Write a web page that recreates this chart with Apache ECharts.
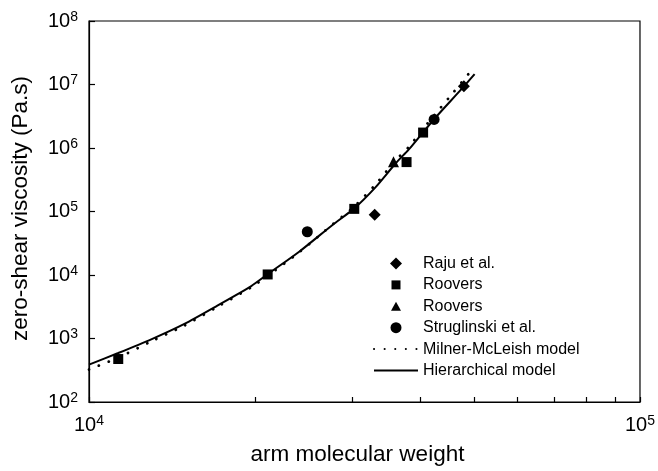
<!DOCTYPE html>
<html>
<head>
<meta charset="utf-8">
<script src="https://cdn.jsdelivr.net/npm/echarts@6/dist/echarts.min.js"></script>
<style>html,body{margin:0;padding:0;background:#fff;}#c{width:658px;height:471px;}</style>
</head>
<body>
<div id="c"></div>
<script>
// ---- data ----
const rajuData = [[33000, 89000], [47900, 9400000]];
const rooversSquareData = [[11300, 475], [21100, 10200], [30300, 110000], [37700, 600000], [40400, 1750000]];
const rooversTriangleData = [[35700, 610000]];
const struglinskiData = [[24900, 48000], [42300, 2820000]];
const milnerMcLeishData = [
  [10000, 325], [11300, 500], [13000, 910], [14900, 1600], [17100, 3150], [19700, 6400],
  [21100, 9700], [24100, 23000], [27700, 63000], [30300, 120000], [33100, 265000],
  [36000, 640000], [38100, 1050000], [40200, 1900000], [42600, 3500000], [45900, 7600000],
  [49100, 15500000]
];
const hierarchicalData = [
  [10000, 388], [11300, 590], [13000, 980], [14900, 1700], [17100, 3300], [19700, 6700],
  [21100, 10300], [24100, 23500], [27700, 62000], [30300, 112000], [33100, 240000],
  [36000, 570000], [38100, 960000], [40200, 1680000], [42600, 3050000], [47500, 8600000],
  [50100, 14600000]
];
const xTickValues = [10000, 20000, 30000, 40000, 50000, 60000, 70000, 80000, 90000, 100000];
const xLabelValues = [10000, 100000];
const yTickValues = [100, 1000, 10000, 100000, 1000000, 10000000, 100000000];
const seriesNames = ['Raju et al.', 'Roovers', 'Roovers ', 'Struglinski et al.', 'Milner-McLeish model', 'Hierarchical model'];

const FONT = '"Liberation Sans", Arial, Helvetica, sans-serif';
const powRich = {
  b: { fontSize: 20, fontFamily: FONT, color: '#000', lineHeight: 22 },
  s: { fontSize: 14, fontFamily: FONT, color: '#000', lineHeight: 14, verticalAlign: 'top' }
};
const powFmt = v => '{b|10}{s|' + Math.round(Math.log10(v)) + '}';
const hidden = { color: 'rgba(0,0,0,0)', borderColor: 'rgba(0,0,0,0)', borderWidth: 0 };
// legend icon shapes inside a 44x12 box (corner moveTo points keep the box)
const BOX = 'M0,0 M44,12 ';
const iconDiamond = 'path://' + BOX + 'M22,0 L28,6 L22,12 L16,6 Z';
const iconSquare = 'path://' + BOX + 'M17.5,1.5 L26.5,1.5 L26.5,10.5 L17.5,10.5 Z';
const iconTriangle = 'path://' + BOX + 'M22,1.5 L27,10.5 L17,10.5 Z';
const iconCircle = 'path://' + BOX + 'M16.5,6 A5.5,5.5 0 1,0 27.5,6 A5.5,5.5 0 1,0 16.5,6 Z';

const chart = echarts.init(document.getElementById('c'), null, { renderer: 'canvas' });
chart.setOption({
  animation: false,
  backgroundColor: '#fff',
  grid: { left: 89, right: 16, top: 21, bottom: 63, show: true, borderColor: '#000', borderWidth: 1.2, backgroundColor: 'transparent' },
  xAxis: {
    type: 'log', logBase: 10, min: 10000, max: 100000,
    name: 'arm molecular weight', nameLocation: 'middle', nameGap: 41,
    nameTextStyle: { fontSize: 22.5, fontFamily: FONT, color: '#000', padding: [0, 14, 0, 0] },
    axisLine: { show: true, lineStyle: { color: '#000', width: 1.2 } },
    axisTick: { show: true, inside: true, length: 5, customValues: xTickValues, lineStyle: { color: '#000', width: 1.2 } },
    axisLabel: { show: true, margin: 12, customValues: xLabelValues, formatter: powFmt, rich: powRich },
    splitLine: { show: false }, minorTick: { show: false }
  },
  yAxis: {
    type: 'log', logBase: 10, min: 100, max: 100000000,
    name: 'zero-shear viscosity (Pa.s)', nameLocation: 'middle', nameGap: 57,
    nameTextStyle: { fontSize: 22.5, fontFamily: FONT, color: '#000', padding: [0, 0, 0, 6] },
    axisLine: { show: true, lineStyle: { color: '#000', width: 1.2 } },
    axisTick: { show: true, inside: true, length: 6, customValues: yTickValues, lineStyle: { color: '#000', width: 1.2 } },
    axisLabel: { show: true, margin: 11, customValues: yTickValues, formatter: powFmt, rich: powRich },
    splitLine: { show: false }
  },
  legend: {
    orient: 'vertical', left: 373, top: 255.5, padding: 0,
    itemWidth: 44, itemHeight: 12, itemGap: 5.4,
    data: [
      { name: seriesNames[0], icon: iconDiamond },
      { name: seriesNames[1], icon: iconSquare },
      { name: seriesNames[2], icon: iconTriangle },
      { name: seriesNames[3], icon: iconCircle },
      { name: seriesNames[4], itemStyle: hidden },
      { name: seriesNames[5], itemStyle: hidden }
    ],
    textStyle: { fontSize: 16, fontFamily: FONT, color: '#000', lineHeight: 16 },
    selectedMode: false
  },
  series: [
    { name: seriesNames[4], type: 'line', data: milnerMcLeishData, symbol: 'none', smooth: 0.25, z: 2,
      lineStyle: { color: '#000', width: 2.8, type: [0.1, 10.5], cap: 'round' }, itemStyle: { color: '#000' } },
    { name: seriesNames[5], type: 'line', data: hierarchicalData, symbol: 'none', smooth: 0.25, z: 2,
      lineStyle: { color: '#000', width: 2 }, itemStyle: { color: '#000' } },
    { name: seriesNames[0], type: 'scatter', data: rajuData, symbol: 'diamond', symbolSize: 12, z: 3, itemStyle: { color: '#000', opacity: 1 } },
    { name: seriesNames[1], type: 'scatter', data: rooversSquareData, symbol: 'rect', symbolSize: 10, z: 3, itemStyle: { color: '#000', opacity: 1 } },
    { name: seriesNames[2], type: 'scatter', data: rooversTriangleData, symbol: 'triangle', symbolSize: 11, z: 3, itemStyle: { color: '#000', opacity: 1 } },
    { name: seriesNames[3], type: 'scatter', data: struglinskiData, symbol: 'circle', symbolSize: 11, z: 3, itemStyle: { color: '#000', opacity: 1 } }
  ]
});
</script>
</body>
</html>
